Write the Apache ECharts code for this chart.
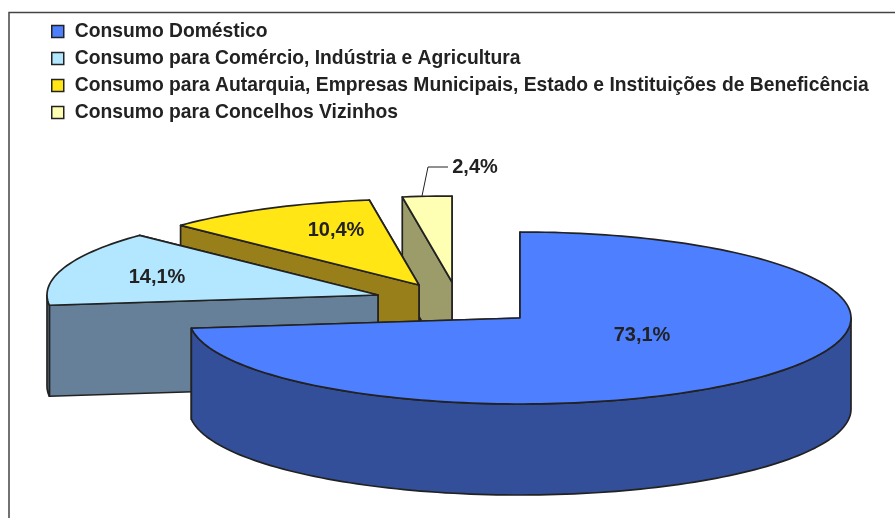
<!DOCTYPE html>
<html>
<head>
<meta charset="utf-8">
<style>html,body{margin:0;padding:0;background:#fff}#c{width:895px;height:518px}</style>
<script src="https://cdn.jsdelivr.net/npm/echarts@6/dist/echarts.min.js"></script>
</head>
<body>
<div id="c"></div>
<script>
// ---- data
const categories = [
  'Consumo Doméstico',
  'Consumo para Comércio, Indústria e Agricultura',
  'Consumo para Autarquia, Empresas Municipais, Estado e Instituições de Beneficência',
  'Consumo para Concelhos Vizinhos'
];
const values = [73.1, 14.1, 10.4, 2.4];

// ---- style / layout
const topColors  = ['#4d7fff', '#b3e6ff', '#ffe614', '#ffffb3'];
const sideColors = ['#334f99', '#668099', '#997f1a', '#9c9c6a'];
const apexes = [[520, 318], [378, 295], [419, 285], [452, 282]];
const labelSpots = [[642, 335], [157, 277], [336, 230], [475, 167]];
const RX = 331, RY = 86, DEPTH = 91, INK = '#222222';

const total = values.reduce((a, b) => a + b, 0);
const pt = (c, deg, dy) => {
  const r = deg * Math.PI / 180;
  return [c[0] + RX * Math.sin(r), c[1] - RY * Math.cos(r) + (dy || 0)];
};
const arc = (c, a, b, dy) => {
  const n = Math.max(2, Math.ceil(Math.abs(b - a) / 1.5)), out = [];
  for (let i = 0; i <= n; i++) out.push(pt(c, a + (b - a) * i / n, dy));
  return out;
};
const poly = (points, fill) => ({
  type: 'polygon', silent: true,
  shape: { points },
  style: { fill, stroke: INK, lineWidth: 1.7, lineJoin: 'round' }
});

function renderSlice(i) {
  const before = values.slice(0, i).reduce((a, b) => a + b, 0);
  const a0 = before / total * 360, a1 = (before + values[i]) / total * 360;
  const c = apexes[i], side = sideColors[i], kids = [];
  const down = p => [p[0], p[1] + DEPTH];
  const face = deg => {
    const p = pt(c, deg);
    return poly([c, p, down(p), down(c)], side);
  };
  kids.push(face(a1), face(a0));
  const w0 = Math.max(a0, 90), w1 = Math.min(a1, 270);
  if (w1 > w0) {
    kids.push(poly(arc(c, w0, w1).concat(arc(c, w1, w0, DEPTH)), side));
  }
  kids.push(poly([c].concat(arc(c, a0, a1)), topColors[i]));
  if (i === 3) {
    kids.push({
      type: 'polyline', silent: true,
      shape: { points: [[422, 196], [428, 167], [448, 167]] },
      style: { fill: 'none', stroke: INK, lineWidth: 1 }
    });
  }
  kids.push({
    type: 'text', silent: true,
    style: {
      x: labelSpots[i][0], y: labelSpots[i][1],
      text: values[i].toFixed(1).replace('.', ',') + '%',
      fill: INK, font: 'bold 20px "Liberation Sans", Arial, sans-serif',
      align: 'center', verticalAlign: 'middle'
    }
  });
  return { type: 'group', children: kids };
}

// painted back to front: the smallest slice first
const order = [3, 2, 1, 0];
const series = order.map(i => ({
  type: 'custom',
  name: categories[i],
  coordinateSystem: 'none',
  data: [values[i]],
  itemStyle: { color: topColors[i] },
  renderItem: () => renderSlice(i)
}));

const chart = echarts.init(document.getElementById('c'), null, { renderer: 'canvas' });
chart.setOption({
  animation: false,
  backgroundColor: '#ffffff',
  legend: {
    data: categories,
    orient: 'vertical',
    left: 46, top: 17,
    icon: 'rect',
    itemWidth: 12, itemHeight: 12, itemGap: 8,
    selectedMode: false,
    itemStyle: { borderColor: INK, borderWidth: 1.5 },
    textStyle: {
      color: INK, fontSize: 19.3, fontWeight: 'bold',
      fontFamily: '"Liberation Sans", Arial, sans-serif',
      padding: [0, 0, 0, 6]
    }
  },
  graphic: [{
    type: 'polyline', silent: true,
    shape: { points: [[9, 518], [9, 12.5], [895, 12.5]] },
    style: { fill: 'none', stroke: '#444444', lineWidth: 1.5 }
  }],
  series
});
</script>
</body>
</html>
